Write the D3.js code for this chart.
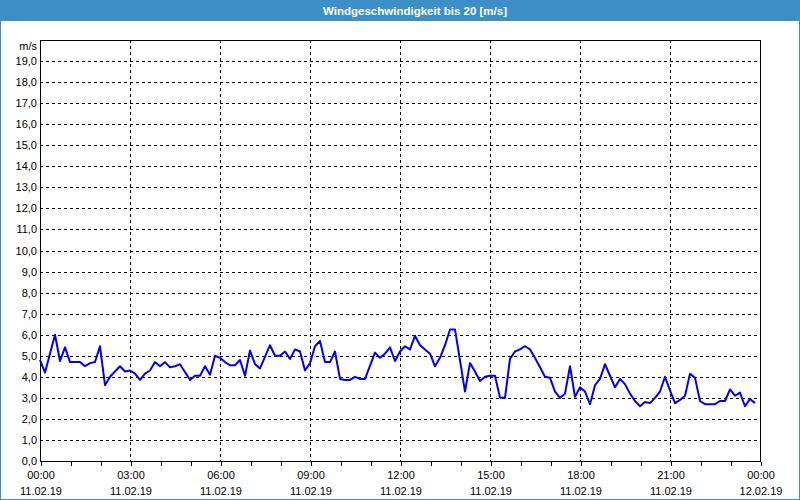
<!DOCTYPE html>
<html><head><meta charset="utf-8">
<script src="https://cdn.jsdelivr.net/npm/d3@7"></script>
<style>
html,body{margin:0;padding:0;background:#fff;}
svg{display:block;}
text{font-family:"Liberation Sans",Arial,sans-serif;}
</style></head>
<body>
<script>
const titleText = "Windgeschwindigkeit bis 20 [m/s]";
const unitLabel = "m/s";
const minutes = [0,10,30,40,50,60,80,90,100,110,120,130,140,160,170,180,190,200,210,220,230,240,250,260,270,280,300,310,320,330,340,350,360,370,380,390,400,410,420,430,440,460,470,480,490,500,510,520,530,540,550,560,570,580,590,600,610,620,630,640,650,670,680,690,700,710,720,730,740,750,760,770,780,790,800,810,820,830,850,860,870,880,890,900,910,920,930,940,950,960,970,980,990,1000,1010,1020,1030,1040,1050,1060,1070,1080,1090,1100,1110,1120,1130,1140,1150,1160,1170,1180,1190,1200,1210,1220,1230,1240,1250,1260,1270,1280,1290,1300,1310,1320,1330,1340,1350,1360,1370,1380,1390,1400,1410,1420,1430];
const speeds = [4.8,4.2,6.0,4.75,5.4,4.7,4.7,4.5,4.65,4.7,5.45,3.6,4.0,4.5,4.25,4.3,4.15,3.85,4.15,4.3,4.7,4.5,4.7,4.45,4.5,4.6,3.85,4.05,4.05,4.5,4.1,5.0,4.9,4.7,4.55,4.55,4.8,4.05,5.25,4.6,4.4,5.5,5.0,5.0,5.2,4.85,5.3,5.2,4.3,4.65,5.45,5.7,4.7,4.7,5.2,3.9,3.85,3.85,4.0,3.9,3.9,5.15,4.9,5.1,5.4,4.75,5.2,5.45,5.3,5.95,5.5,5.3,5.1,4.5,4.9,5.5,6.25,6.25,3.3,4.65,4.25,3.8,4.0,4.05,4.05,3.0,3.0,4.85,5.2,5.3,5.45,5.3,4.9,4.45,4.0,3.95,3.3,3.0,3.2,4.5,3.05,3.5,3.3,2.7,3.6,3.9,4.6,4.05,3.5,3.9,3.65,3.2,2.85,2.6,2.8,2.75,3.0,3.3,4.0,3.35,2.75,2.9,3.1,4.15,3.95,2.85,2.7,2.7,2.7,2.85,2.85,3.4,3.1,3.25,2.6,2.95,2.75];
const majorTicks = [0,180,360,540,720,900,1080,1260,1440];
const timeLabels = ["00:00","03:00","06:00","09:00","12:00","15:00","18:00","21:00","00:00"];
const dateLabels = ["11.02.19","11.02.19","11.02.19","11.02.19","11.02.19","11.02.19","11.02.19","11.02.19","12.02.19"];
const yTicks = d3.range(0,20);
const yTickLabels = ["0,0","1,0","2,0","3,0","4,0","5,0","6,0","7,0","8,0","9,0","10,0","11,0","12,0","13,0","14,0","15,0","16,0","17,0","18,0","19,0"];

const W = 800, H = 500;
const blue = "#3c8fc6";
const svg = d3.select("body").append("svg").attr("width", W).attr("height", H);

svg.append("rect").attr("x",0.5).attr("y",0.5).attr("width",W-1).attr("height",H-1)
  .attr("fill","#fff").attr("stroke",blue).attr("stroke-width",1);
svg.append("rect").attr("x",0).attr("y",0).attr("width",W).attr("height",21).attr("fill",blue);
svg.append("text").attr("x",415).attr("y",15).attr("text-anchor","middle")
  .attr("fill","#fff").attr("font-weight","bold").attr("font-size","11.5px").text(titleText);

const x = d3.scaleLinear().domain([0,1440]).range([40,760]);
const y = d3.scaleLinear().domain([0,20]).range([461,40]);

const g = svg.append("g");
// horizontal grid
g.selectAll("line.hg").data(yTicks.filter(v=>v>0)).join("line")
  .attr("x1",x(0)).attr("x2",x(1440))
  .attr("y1",d=>Math.round(y(d))+0.5).attr("y2",d=>Math.round(y(d))+0.5)
  .attr("stroke","#000").attr("stroke-dasharray","3,3").attr("shape-rendering","crispEdges");
// vertical grid
g.selectAll("line.vg").data(majorTicks.filter(v=>v>0 && v<1440)).join("line")
  .attr("x1",d=>Math.round(x(d))+0.5).attr("x2",d=>Math.round(x(d))+0.5)
  .attr("y1",y(20)).attr("y2",y(0))
  .attr("stroke","#000").attr("stroke-dasharray","3,3").attr("shape-rendering","crispEdges");

// frame
g.append("rect").attr("x",x(0)+0.5).attr("y",y(20)+0.5).attr("width",x(1440)-x(0)).attr("height",y(0)-y(20))
  .attr("fill","none").attr("stroke","#000").attr("shape-rendering","crispEdges");

// bottom axis ticks
const xAxis = d3.axisBottom(x).tickValues(d3.range(0,1441,60)).tickSize(4).tickFormat("");
const ax = svg.append("g").attr("transform",`translate(0.5,${Math.round(y(0))+0.5})`).call(xAxis);
ax.select(".domain").remove();
ax.selectAll("line").attr("stroke","#000").attr("shape-rendering","crispEdges");

// x labels
svg.selectAll("text.tl").data(majorTicks).join("text")
  .attr("x",d=>x(d)+1).attr("y",479).attr("text-anchor","middle").attr("font-size","11px").attr("fill","#000")
  .text((d,i)=>timeLabels[i]);
svg.selectAll("text.dl").data(majorTicks).join("text")
  .attr("x",d=>x(d)+1).attr("y",495).attr("text-anchor","middle").attr("font-size","11px").attr("fill","#000")
  .text((d,i)=>dateLabels[i]);

// y labels
svg.selectAll("text.yl").data(yTicks).join("text")
  .attr("x",37).attr("y",d=>y(d)+4).attr("text-anchor","end").attr("font-size","11px").attr("fill","#000")
  .text((d,i)=>yTickLabels[i]);
svg.append("text").attr("x",37).attr("y",50).attr("text-anchor","end").attr("font-size","11px").attr("fill","#000").text(unitLabel);

// line
const data = minutes.map((m,i)=>({m, v: speeds[i]}));
svg.append("path").datum(data)
  .attr("d", d3.line().x(d=>x(d.m)).y(d=>y(d.v)))
  .attr("fill","none").attr("stroke","#0000ee").attr("stroke-width",2).attr("stroke-linejoin","round");
</script>
</body></html>
